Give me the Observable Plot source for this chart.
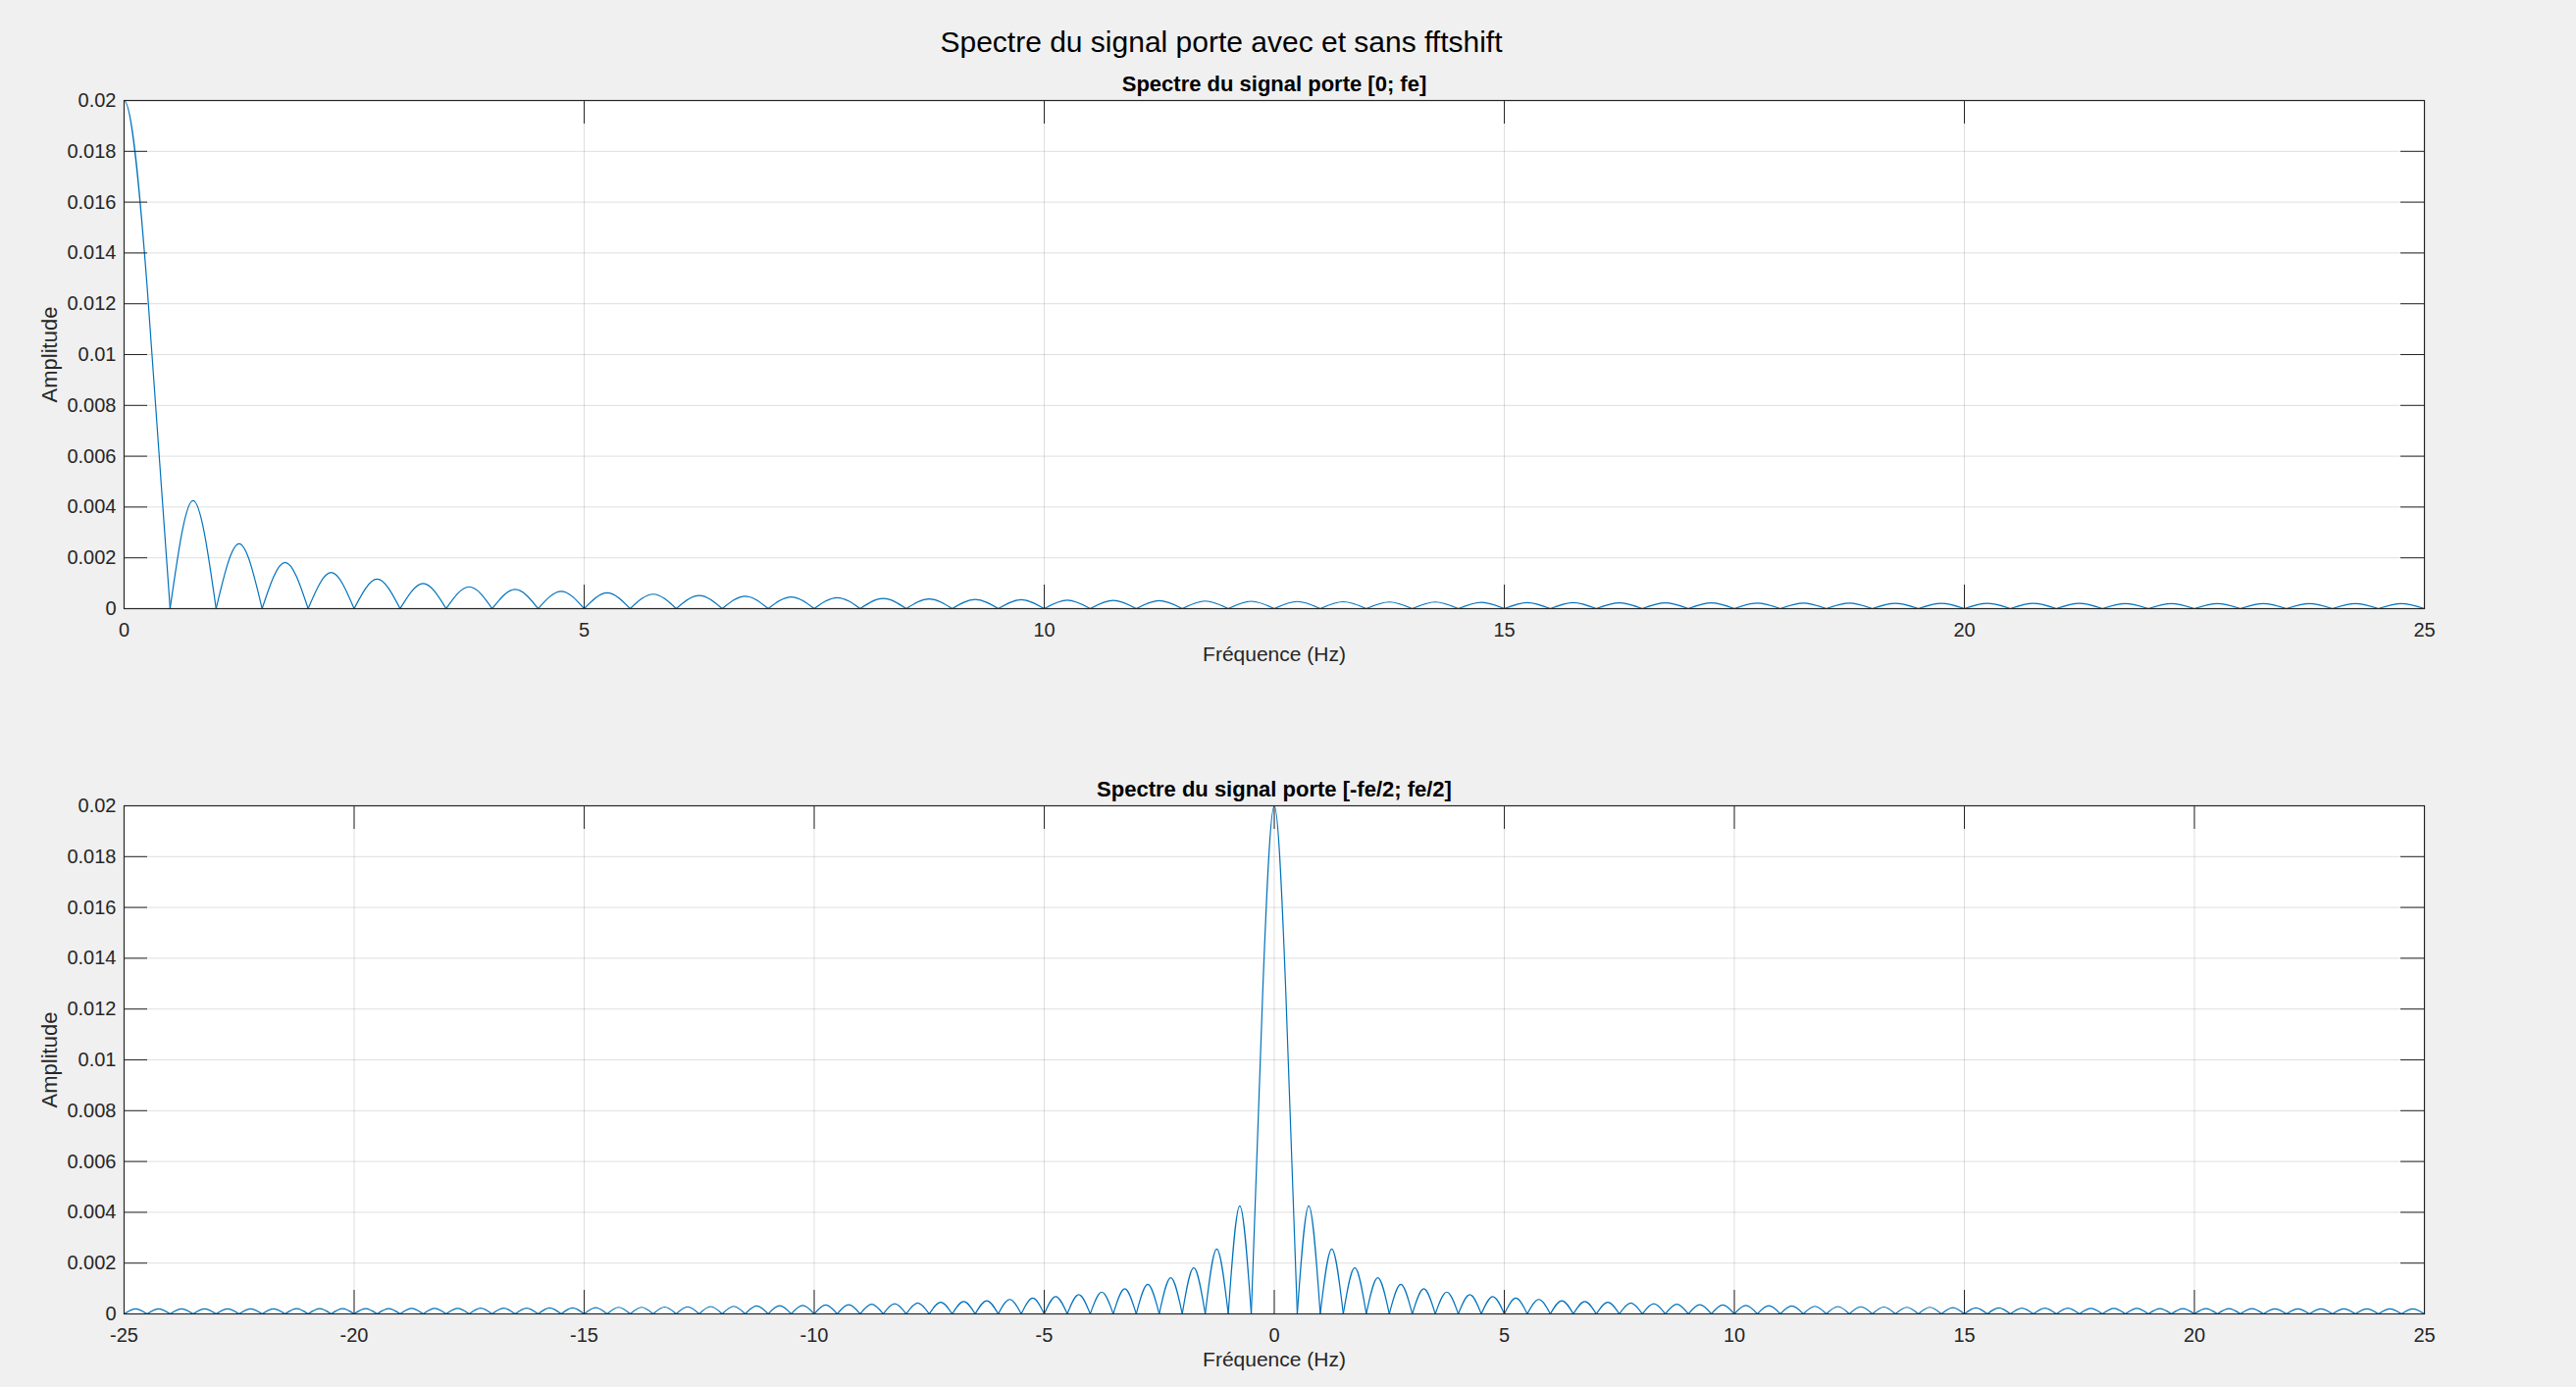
<!DOCTYPE html>
<html>
<head>
<meta charset="utf-8">
<script src="https://cdn.jsdelivr.net/npm/d3@7"></script>
<script src="https://cdn.jsdelivr.net/npm/@observablehq/plot@0.6"></script>
<style>
  html, body { margin: 0; padding: 0; background: #f0f0f0; }
  #fig { position: relative; width: 2626px; height: 1414px; background: #f0f0f0; overflow: hidden; }
  #fig svg { display: block; }
  #title { position: absolute; left: 0; width: 2490px; top: 26px; text-align: center;
           font-family: "Liberation Sans", Arial, Helvetica, sans-serif; font-size: 30px; color: #000; }
</style>
</head>
<body>
<div id="fig"><div id="title">Spectre du signal porte avec et sans fftshift</div></div>
<script>
// ---- Data ----
const mainLobeFreq = [-0.5, -0.25, 0, 0.25, 0.5];
const mainLobeAmp  = [0, 0.0127, 0.02, 0.0127, 0];

// zeros of the spectrum (Hz), positive side
const spectrumZeros = [0.5, 1, 1.5, 2, 2.5, 3, 3.5, 4, 4.5, 5, 5.5, 6, 6.5, 7, 7.5, 8, 8.5, 9, 9.5, 10,
  10.5, 11, 11.5, 12, 12.5, 13, 13.5, 14, 14.5, 15, 15.5, 16, 16.5, 17, 17.5, 18, 18.5, 19, 19.5, 20,
  20.5, 21, 21.5, 22, 22.5, 23, 23.5, 24, 24.5, 25];
// side-lobe peak positions (Hz) and heights
const sideLobeCenter = [0.75, 1.25, 1.75, 2.25, 2.75, 3.25, 3.75, 4.25, 4.75, 5.25, 5.75, 6.25, 6.75, 7.25,
  7.75, 8.25, 8.75, 9.25, 9.75, 10.25, 10.75, 11.25, 11.75, 12.25, 12.75, 13.25, 13.75, 14.25, 14.75,
  15.25, 15.75, 16.25, 16.75, 17.25, 17.75, 18.25, 18.75, 19.25, 19.75, 20.25, 20.75, 21.25, 21.75,
  22.25, 22.75, 23.25, 23.75, 24.25, 24.75];
const sideLobePeak = [0.00425, 0.00255, 0.00182, 0.00142, 0.00116, 0.00099, 0.00086, 0.00076, 0.00068,
  0.00062, 0.00057, 0.00052, 0.00049, 0.00046, 0.00043, 0.00040, 0.00038, 0.00036, 0.00035, 0.00033,
  0.00032, 0.00031, 0.00030, 0.00029, 0.00028, 0.00027, 0.00026, 0.00026, 0.00025, 0.00024, 0.00024,
  0.00023, 0.00023, 0.00023, 0.00022, 0.00022, 0.00022, 0.00021, 0.00021, 0.00021, 0.00021, 0.00021,
  0.00020, 0.00020, 0.00020, 0.00020, 0.00020, 0.00020, 0.00020];

const yTicks = [0, 0.002, 0.004, 0.006, 0.008, 0.01, 0.012, 0.014, 0.016, 0.018, 0.02];
const xTicksTop = [0, 5, 10, 15, 20, 25];
const xTicksBottom = [-25, -20, -15, -10, -5, 0, 5, 10, 15, 20, 25];

const titleTop = "Spectre du signal porte [0; fe]";
const titleBottom = "Spectre du signal porte [-fe/2; fe/2]";
const xLabel = "Fréquence (Hz)";
const yLabel = "Amplitude";

// ---- Build tables ----
function buildRows(withNegative) {
  const rows = mainLobeFreq.map((f, i) => ({f, a: mainLobeAmp[i], lobe: "main"}));
  for (let k = 0; k < sideLobeCenter.length; k++) {
    const pts = [[spectrumZeros[k], 0], [sideLobeCenter[k], sideLobePeak[k]], [spectrumZeros[k + 1], 0]];
    pts.forEach(([f, a]) => rows.push({f, a, lobe: "p" + k}));
    if (withNegative) pts.forEach(([f, a]) => rows.push({f: -f, a, lobe: "n" + k}));
  }
  return rows;
}

const FONT = "Liberation Sans, Arial, Helvetica, sans-serif";
const W = 2626, H = 707, ML = 126, MR = 155;
const FW = W - ML - MR; // frame width
const TICK = 24;
const BLUE = "#0072BD", DARK = "#262626";

function subplot({rows, xDomain, xTicks, title, marginTop, marginBottom}) {
  const FH = H - marginTop - marginBottom;
  return Plot.plot({
    width: W, height: H,
    marginLeft: ML, marginRight: MR, marginTop, marginBottom,
    style: {background: "transparent", fontFamily: FONT, fontSize: "20px", color: DARK},
    x: {domain: xDomain},
    y: {domain: [0, 0.02]},
    marks: [
      Plot.frame({fill: "white"}),
      Plot.ruleY(yTicks, {y: d => d, stroke: DARK, strokeOpacity: 0.15}),
      Plot.ruleX(xTicks, {x: d => d, stroke: DARK, strokeOpacity: 0.15}),
      Plot.line(rows, {x: "f", y: "a", z: "lobe", curve: "natural", stroke: BLUE, strokeWidth: 1.2, clip: true}),
      Plot.tickY(yTicks, {y: d => d, insetRight: FW - TICK, stroke: DARK}),
      Plot.tickY(yTicks, {y: d => d, insetLeft: FW - TICK, stroke: DARK}),
      Plot.tickX(xTicks, {x: d => d, insetTop: FH - TICK, stroke: DARK}),
      Plot.tickX(xTicks, {x: d => d, insetBottom: FH - TICK, stroke: DARK}),
      Plot.frame({stroke: DARK, strokeWidth: 1.2}),
      Plot.axisY({ticks: yTicks, tickSize: 0, tickPadding: 8, label: null,
                  tickFormat: d => String(+d.toFixed(4)), fill: DARK}),
      Plot.axisX({ticks: xTicks, tickSize: 0, tickPadding: 14, label: null,
                  tickFormat: d => String(d), fill: DARK}),
      Plot.text([title], {text: d => d, frameAnchor: "top", lineAnchor: "bottom", dy: -10,
                  fontSize: 22, fontWeight: "bold", fill: "#000"}),
      Plot.text([xLabel], {text: d => d, frameAnchor: "bottom", lineAnchor: "middle", dy: 47,
                  fontSize: 21, fill: DARK}),
      Plot.text([yLabel], {text: d => d, frameAnchor: "left", textAnchor: "middle", lineAnchor: "middle",
                  dx: -76, rotate: -90, fontSize: 22, fill: DARK})
    ]
  });
}

const fig = document.getElementById("fig");
fig.appendChild(subplot({rows: buildRows(false), xDomain: [0, 25], xTicks: xTicksTop,
  title: titleTop, marginTop: 102, marginBottom: 87}));
fig.appendChild(subplot({rows: buildRows(true), xDomain: [-25, 25], xTicks: xTicksBottom,
  title: titleBottom, marginTop: 114, marginBottom: 75}));
</script>
</body>
</html>
